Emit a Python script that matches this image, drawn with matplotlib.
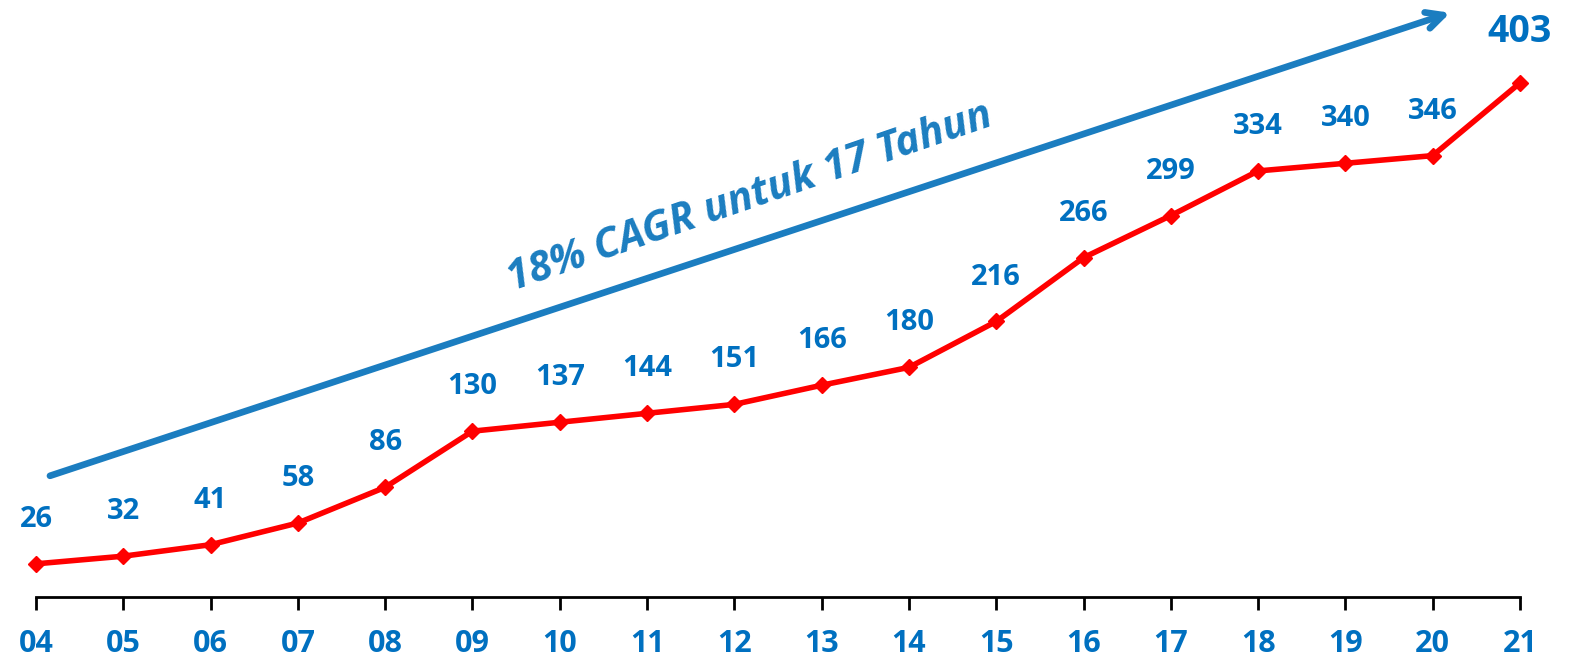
import numpy as np
from matplotlib import pyplot as plt

years = ['04', '05', '06', '07', '08', '09', '10', '11', '12', '13',
         '14', '15', '16', '17', '18', '19', '20', '21']
values = [26, 32, 41, 58, 86, 130, 137, 144, 151, 166,
          180, 216, 266, 299, 334, 340, 346, 403]
cagr_text = '18% CAGR untuk 17 Tahun'

plt.rcParams['font.family'] = ['Open Sans', 'DejaVu Sans']

label_blue = '#0070C0'
arrow_blue = '#1B7DC0'

fig = plt.figure(figsize=(15.75, 6.66), dpi=100)
ax = fig.add_axes([36 / 1575, 69 / 666, (1520 - 36) / 1575, 597 / 666])

xs = np.arange(len(years))
ax.plot(xs, values, color='#FF0000', linewidth=4, marker='D', markersize=8.5,
        zorder=3, clip_on=False)

for x, v in zip(xs, values):
    if x == xs[-1]:
        ax.annotate(str(v), (x, v), xytext=(0, 37), textcoords='offset points',
                    ha='center', va='center', fontsize=27, fontweight='bold', color=label_blue)
    else:
        ax.annotate(str(v), (x, v), xytext=(0, 32), textcoords='offset points',
                    ha='center', va='center', fontsize=21, fontweight='bold', color=label_blue)

# growth arrow
ax.annotate('', xy=(16.2, 458), xytext=(0.16, 95),
            arrowprops=dict(arrowstyle='->,head_length=1.2,head_width=0.6',
                            color=arrow_blue, linewidth=4.8, shrinkA=0, shrinkB=0))
ax.text(8.18, 313, cagr_text, rotation=19, rotation_mode='anchor',
        ha='center', va='center', fontsize=30, fontweight='bold', fontstyle='italic',
        color=arrow_blue)

ax.set_xlim(0, 17)
ax.set_ylim(0, 468)
ax.set_xticks(xs)
ax.set_xticklabels(years, fontsize=22, fontweight='bold', color=label_blue)
ax.tick_params(axis='x', direction='out', length=9, width=2, color='black', pad=14)
ax.set_yticks([])
for side in ['top', 'right', 'left']:
    ax.spines[side].set_visible(False)
ax.spines['bottom'].set_linewidth(2)

fig.savefig('out.png', dpi=100)
